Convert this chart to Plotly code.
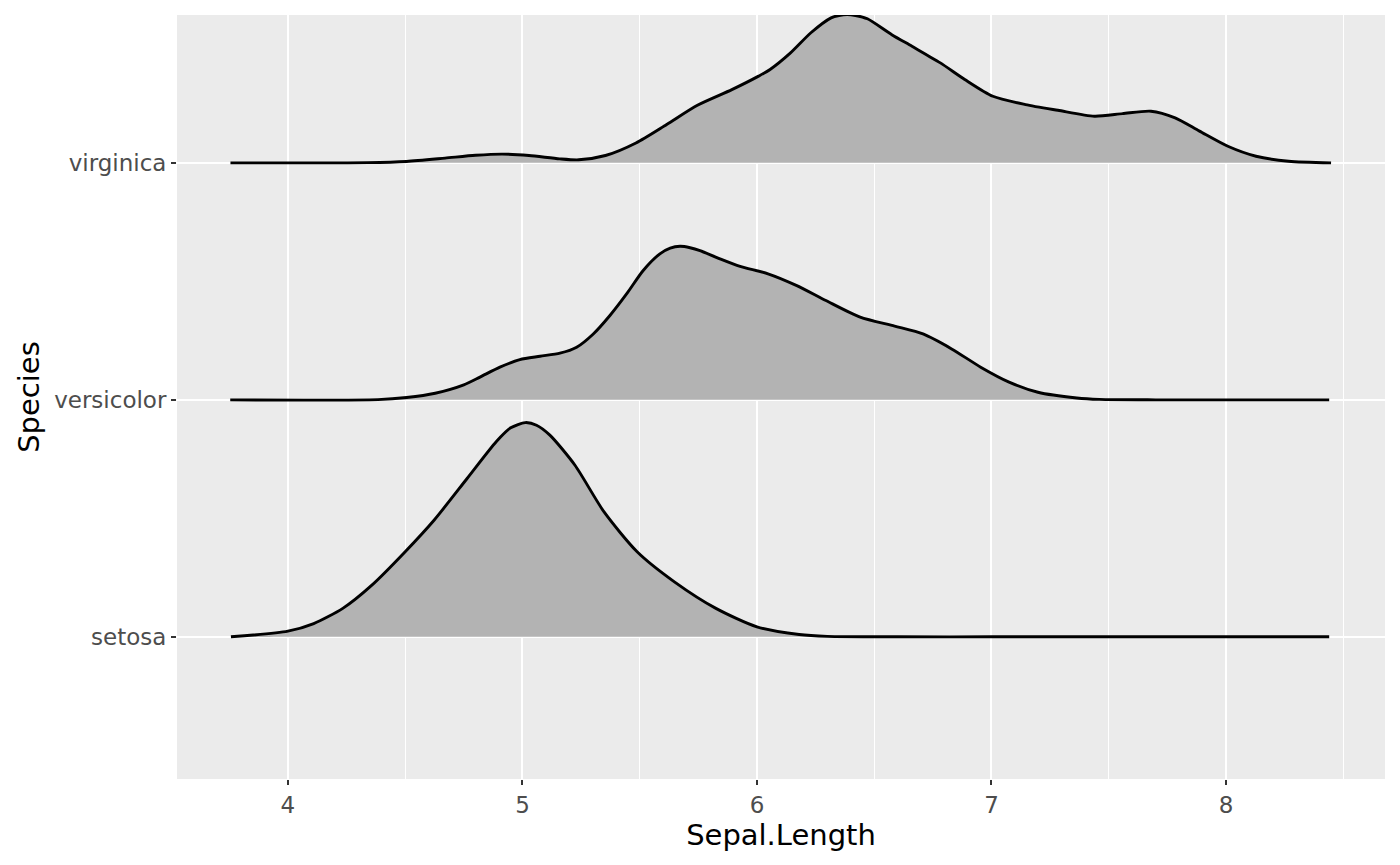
import plotly.graph_objects as go

# Ridge heights (x = Sepal.Length, h = ridge height in row units)
species = ["setosa", "versicolor", "virginica"]

setosa_x = [3.757, 4.0, 4.11, 4.234, 4.358, 4.5, 4.623, 4.764, 4.888, 4.95, 5.012,
            5.06, 5.117, 5.224, 5.348, 5.489, 5.648, 5.825, 6.0, 6.18, 6.3, 6.6, 7.0,
            8.0, 8.44]
setosa_h = [0.0, 0.024, 0.056, 0.12, 0.218, 0.359, 0.492, 0.668, 0.823, 0.882, 0.904,
            0.893, 0.851, 0.724, 0.527, 0.359, 0.232, 0.12, 0.042, 0.01, 0.002, 0.0, 0.0,
            0.0, 0.0]

versicolor_x = [3.754, 4.384, 4.506, 4.628, 4.75, 4.819, 4.904, 4.989, 5.075, 5.16,
                5.231, 5.302, 5.373, 5.444, 5.515, 5.586, 5.63, 5.672, 5.715, 5.757,
                5.842, 5.928, 6.047, 6.17, 6.294, 6.44, 6.587, 6.708, 6.83, 6.954, 7.075,
                7.198, 7.364, 7.46, 7.7, 8.0, 8.44]
versicolor_h = [0.0, 0.001, 0.01, 0.028, 0.063, 0.096, 0.138, 0.17, 0.184, 0.197,
                0.222, 0.278, 0.356, 0.447, 0.546, 0.616, 0.64, 0.648, 0.642, 0.63,
                0.595, 0.563, 0.532, 0.482, 0.419, 0.349, 0.311, 0.278, 0.215, 0.138, 0.075,
                0.032, 0.008, 0.002, 0.0, 0.0, 0.0]

virginica_x = [3.755, 4.34, 4.506, 4.67, 4.8, 4.914, 5.028, 5.159, 5.24, 5.354, 5.484,
               5.615, 5.746, 5.893, 6.007, 6.056, 6.143, 6.23, 6.316, 6.35, 6.384, 6.42,
               6.471, 6.575, 6.661, 6.782, 6.886, 7.006, 7.145, 7.283, 7.439, 7.559, 7.68,
               7.783, 7.887, 8.008, 8.128, 8.267, 8.448]
virginica_h = [0.0, 0.001, 0.006, 0.02, 0.032, 0.037, 0.031, 0.017, 0.013, 0.031, 0.084,
               0.162, 0.243, 0.309, 0.366, 0.394, 0.464, 0.549, 0.612, 0.622, 0.626, 0.622,
               0.608, 0.541, 0.492, 0.422, 0.352, 0.281, 0.246, 0.222, 0.197, 0.208, 0.218,
               0.19, 0.134, 0.07, 0.028, 0.007, 0.0]

x_ticks = [4, 5, 6, 7, 8]

ridges = {
    "setosa": (setosa_x, setosa_h),
    "versicolor": (versicolor_x, versicolor_h),
    "virginica": (virginica_x, virginica_h),
}

fig = go.Figure()

# top row first so lower ridges sit on top
for i in reversed(range(len(species))):
    name = species[i]
    xs, hs = ridges[name]
    ys = [i + h for h in hs]
    fig.add_trace(go.Scatter(
        x=xs + xs[::-1],
        y=ys + [i] * len(xs),
        fill="toself",
        fillcolor="#B3B3B3",
        line=dict(width=0, shape="spline", smoothing=0.7),
        mode="lines",
        hoverinfo="skip",
        showlegend=False,
    ))
    fig.add_trace(go.Scatter(
        x=xs,
        y=ys,
        mode="lines",
        line=dict(color="black", width=2.9, shape="spline", smoothing=0.7),
        name=name,
        showlegend=False,
    ))

fig.update_layout(
    width=1400,
    height=865,
    margin=dict(l=177, r=15, t=15, b=86),
    paper_bgcolor="white",
    plot_bgcolor="#EBEBEB",
    font=dict(family="DejaVu Sans", color="#4D4D4D"),
    xaxis=dict(
        range=[3.527, 8.678],
        tickvals=x_ticks,
        ticks="outside",
        ticklen=5,
        tickwidth=2,
        tickcolor="#333333",
        tickfont=dict(size=23, color="#4D4D4D"),
        showgrid=True,
        gridcolor="white",
        gridwidth=2.2,
        zeroline=False,
        showline=False,
        minor=dict(dtick=0.5, showgrid=True, gridcolor="white", gridwidth=1.1),
        title=dict(text="Sepal.Length", font=dict(size=29, color="black"), standoff=8),
    ),
    yaxis=dict(
        range=[-0.6, 2.624],
        tickvals=[0, 1, 2],
        ticktext=species,
        ticks="outside",
        ticklen=5,
        tickwidth=2,
        tickcolor="#333333",
        tickfont=dict(size=23, color="#4D4D4D"),
        showgrid=True,
        gridcolor="white",
        gridwidth=2.2,
        zeroline=False,
        showline=False,
        title=dict(text="Species", font=dict(size=29, color="black"), standoff=6),
    ),
)

fig.write_html("out.html", config={"displayModeBar": False},
               post_script="document.body.style.margin='0';")
